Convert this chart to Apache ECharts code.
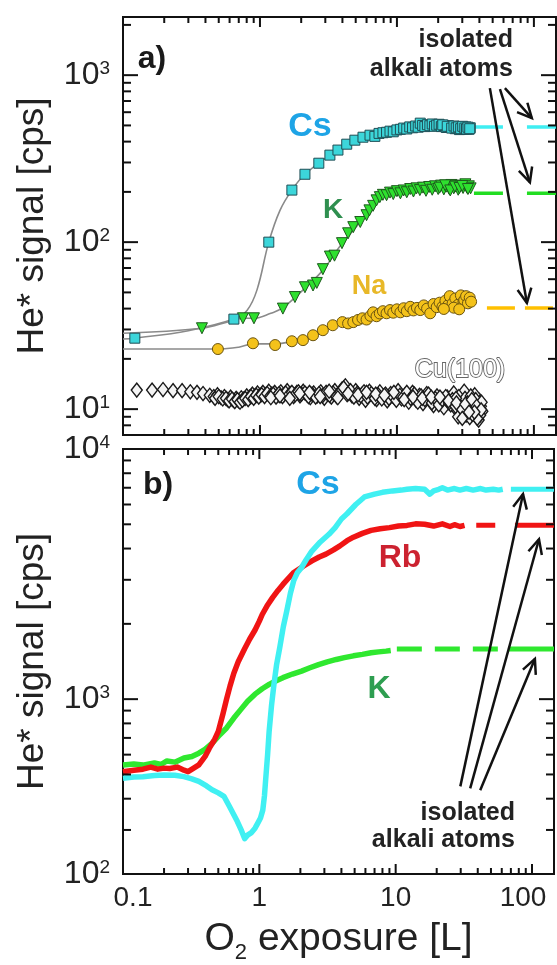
<!DOCTYPE html>
<html>
<head>
<meta charset="utf-8">
<script src="https://cdn.jsdelivr.net/npm/echarts@6/dist/echarts.min.js"></script>
<style>
  html, body { margin: 0; padding: 0; background: #fff; }
  #chart { width: 557px; height: 965px; }
</style>
</head>
<body>
<div id="chart"></div>
<script>
const FONT = '"Liberation Sans", Arial, Helvetica, sans-serif';

// shared x axis (O2 exposure, L)
const X_MIN = 0.1, X_MAX = 145;
const xTickVals = [0.1, 1, 10, 100];
const xTickText = ['0.1', '1', '10', '100'];
const xMinor = [0.2, 0.3, 0.4, 0.5, 0.6, 0.7, 0.8, 0.9, 2, 3, 4, 5, 6, 7, 8, 9,
  20, 30, 40, 50, 60, 70, 80, 90];

// panel a) y axis
const yMinA = 7, yMaxA = 2230;
const yLabelA = [10, 100, 1000];
const yExpA = ['1', '2', '3'];
const yMinorA = [8, 9, 20, 30, 40, 50, 60, 70, 80, 90, 200, 300, 400, 500, 600, 700, 800, 900, 2000];

// panel b) y axis (bottom of frame is labelled 10^2 in the original)
const yMinB = 200, yMaxB = 10000;
const yLabelB = [200, 1000, 10000];
const yExpB = ['2', '3', '4'];
const yMinorB = [300, 400, 500, 600, 700, 800, 900, 2000, 3000, 4000, 5000, 6000, 7000, 8000, 9000];

// ---- panel a) data [exposure, signal]
const csA = [[0.122,26.6],[0.645,34.6],[1.16,100],[1.71,205],[2.13,255],[2.69,297],[3.24,332],[3.71,356],
  [4.3,386],[4.93,408],[5.65,425],[6.36,437],[6.9,430],[7.4,448],[7.9,452],[8.4,455],[8.9,462],[9.4,458],
  [10,470],[10.6,474],[11.2,482],[11.8,476],[12.4,490],[13,484],[13.7,496],[14.3,488],[14.8,516],[15.4,500],
  [16,492],[16.7,505],[17.4,498],[18.1,510],[18.8,494],[19.5,502],[20.3,508],[21.1,492],[22,500],[22.9,486],
  [23.8,498],[24.7,490],[25.6,489],[26.6,478],[27.6,492],[28.6,472],[29.7,486],[30.8,476],[31.9,490],
  [32.6,482],[33.5,474],[34.3,484],[21.6,504],[23.3,494],[25.1,482],[26.1,496],[27.1,484],[28.1,490],
  [29.2,478],[30.2,494],[31.3,482],[32.2,476],[33,488],[34,478]];
const kA = [[0.377,30.5],[0.751,35],[0.904,35],[1.47,40],[1.8,46.9],[2.13,53.7],[2.44,55],[2.6,57],[2.88,68.9],
  [3.24,82],[3.5,83],[3.97,98.6],[4.4,113],[4.8,123],[5.4,132],[6.0,145],[6.3,155],[6.7,165],[7.1,178],
  [7.5,186],[7.9,192],[8.4,191],[8.9,198],[9.4,194],[10,202],[10.6,196],[11.2,204],[11.8,199],[12.5,208],
  [13.2,201],[13.9,210],[14.7,205],[15.5,212],[16.3,203],[17.2,214],[18.1,206],[19,216],[20,208],[21,218],
  [22,207],[23,215],[24,209],[25,220],[26,210],[27,216],[28,206],[29.2,218],[30.4,211],[31.6,222],
  [32.4,212],[33.5,216],[34.5,210],[20.5,212],[22.5,219],[24.5,204],[26.5,215],[28.6,211],[30,217],[33,208]];
const naA = [[0.493,22.9],[0.889,24.8],[1.29,24.2],[1.71,25.5],[2.06,25.9],[2.44,27.7],[2.88,29.7],[3.4,31.8],
  [4.0,33.2],[4.4,32.6],[4.8,33.2],[5.2,34.2],[5.6,35],[6.0,34.4],[6.4,36.2],[6.7,38],[7.1,36],[7.5,37.4],
  [7.9,38.6],[8.4,37.5],[8.9,39.2],[9.4,37.8],[10,39.6],[10.6,38],[11.2,40.2],[11.8,38.6],[12.5,41],[13.2,39],
  [14,40.4],[14.8,39.2],[15.7,41.8],[16.6,40],[17.5,37.5],[18.5,42.6],[19.5,40.8],[20.5,43.4],[21.5,41],
  [22.6,44.6],[23.7,42],[24.3,47.5],[25.5,43],[26.7,46],[28,42.2],[29.3,48],[30.6,44],[31,45],[32,47.5],
  [33,43],[34,46.5],[34.8,44],[26,40.5],[28.5,39.6],[22,39.8]];
const cuA = [[0.126,13.0],[0.163,13.0],[0.196,13.1],[0.232,12.9],[0.27,12.9],[0.31,12.7],[0.347,12.6],[0.384,12.4],
  [0.43,12.1],[0.46,11.9],[0.49,12.2],[0.52,11.7],[0.55,11.9],[0.58,11.4],[0.61,11.8],[0.64,11.3],[0.67,11.6],
  [0.7,11.2],[0.73,11.7],[0.76,11.5],[0.8,12.0],[0.84,11.8],[0.88,12.3],[0.92,12.0],[0.96,12.5],[1.0,12.1],
  [1.05,12.6],[1.1,12.2],[1.16,12.8],[1.22,12.3],[1.28,12.6],[1.35,12.1],[1.42,12.7],[1.5,12.2],[1.58,12.9],
  [1.67,12.4],[1.76,11.9],[1.86,12.6],[1.96,12.0],[2.07,12.8],[2.2,12.2],[2.33,11.7],[2.47,12.5],[2.62,12.0],
  [2.78,12.7],[2.95,11.6],[3.13,12.3],[3.32,11.8],[3.52,12.9],[3.74,12.2],[3.97,13.2],[4.2,13.8],[4.45,12.6],
  [4.7,12.0],[5.0,12.9],[5.3,11.6],[5.6,12.4],[5.9,11.3],[6.3,12.8],[6.7,12.0],[7.1,11.4],[7.5,12.7],[8.0,11.9],
  [8.5,11.2],[9.0,12.4],[9.6,11.7],[10.2,12.9],[10.8,11.5],[11.5,12.2],[12.2,11.0],[13,12.6],[13.8,11.3],
  [14.6,12.1],[15.5,10.8],[16.5,12.4],[17.5,11.2],[18.5,10.5],[19.6,12.0],[20.8,11.0],[22,10.2],[23.3,11.8],
  [24.7,10.6],[26,12.5],[27.5,9.8],[29,11.4],[30.5,10.3],[32,9.2],[33.5,11.0],[35,9.9],[36.5,10.8],[38,9.5],
  [39.5,8.6],[41,10.4],[42,9.7],[40,11.3],[37,12.2],[34,8.9],[31,12.8],[28,9.0],
  [0.47,11.6],[0.5,11.9],[0.535,11.5],[0.565,11.6],[0.595,11.2],[0.625,11.5],[0.655,11.1],[0.685,11.4],
  [0.715,11.0],[0.745,11.3],[0.78,11.6],[0.82,11.4],[0.86,11.9],[0.9,11.6],[0.94,12.1],[0.98,11.8],[1.03,12.2],
  [1.08,11.9],[1.13,12.4],[1.19,12.0],[1.25,12.3],[1.31,11.8],[1.38,12.4],[1.46,11.9],[1.54,12.5],[1.62,12.1],
  [1.71,12.6],[1.81,12.2],[1.91,12.7],[2.01,12.3],[2.13,12.5],[2.26,11.9],[2.4,12.3],[2.55,11.8],[2.7,12.4],
  [2.86,12.0],[3.04,12.6],[3.22,12.1],[3.42,12.5],[3.63,11.9],[3.85,12.6],[4.08,13.4],[4.33,12.2],[4.58,12.9],
  [4.85,11.8],[5.15,12.5],[5.45,12.0],[5.75,12.7],[6.1,11.8],[6.5,12.4],[6.9,11.6],[7.3,12.2],[7.75,11.5],
  [8.25,12.3],[8.75,11.6],[9.3,12.0],[9.9,11.3],[10.5,12.1],[11.1,11.8],[11.8,12.6],[12.6,11.6],[13.4,12.3],
  [14.2,11.0],[15,12.0],[16,11.4],[17,12.3],[18,10.9],[19,11.6],[20.2,10.6],[21.4,11.4],[22.7,11.9],[24,10.9],
  [25.4,11.4],[26.8,10.4],[28.3,11.9],[29.8,10.0],[31.4,11.6],[33,10.4],[34.6,12.0],[36,10.1],[37.6,11.4],
  [39,10.0],[40.5,9.2],[41.5,11.0],[38.6,8.8],[35.6,9.3],[32.8,10.9],[30,8.8],[27,11.6],
  [1.2,11.7],[1.4,12.0],[1.65,11.6],[1.95,12.4],[2.3,12.6],[2.75,11.9],[3.2,12.8],[3.7,11.7],[4.4,12.4],
  [5.2,12.2],[6.0,12.6],[7.0,12.3],[8.1,12.1],[9.5,12.6],[11.3,11.4],[13.1,11.8],[15.3,11.6],[17.8,11.8],
  [20.6,11.8],[23.8,11.2],[27.2,10.9],[31.6,10.7],[35.2,11.4],[38.2,10.4],[41.2,9.9],[36.8,9.6],[33.6,9.6]];

// grey guide-to-the-eye curves in panel a)
const fitCsA = [[0.1,26.3],[0.122,26.6],[0.3,29.5],[0.645,34.6],[0.804,39],[0.95,51.6],[1.16,100],[1.4,155],
  [1.71,205],[2.13,255],[3.24,332],[4.93,408],[8,458],[15,495]];
const fitKA = [[0.1,28.5],[0.377,30.5],[0.6,33.5],[0.751,35],[0.904,35],[1.2,37.5],[1.47,40.5],[2.13,53],
  [2.88,68],[3.97,98],[5.4,132],[7.1,178],[10,200]];
const fitNaA = [[0.1,22.9],[0.3,22.9],[0.493,22.9],[0.7,23.5],[0.889,24.6],[1.29,24.6],[1.71,25.4],[2.06,26],
  [2.44,27.6],[2.88,29.6],[3.4,31.6],[4.0,33],[5,34.2],[6.7,37]];

// isolated-atom levels: [start, level], dashed to the right frame
const csLevelA = [36.5, 489];
const kLevelA = [36.5, 196];
const naLevelA = [45.4, 40.3];

// ---- panel b) data [exposure, signal]
const csB = [[0.1,483],[0.12,488],[0.14,490],[0.17,495],[0.2,498],[0.24,496],[0.28,490],[0.32,480],[0.36,469],
  [0.41,450],[0.45,434],[0.5,422],[0.55,409],[0.6,375],[0.65,345],[0.69,324],[0.74,298],[0.78,277],[0.82,286],
  [0.87,292],[0.93,305],[0.97,318],[1.02,335],[1.06,360],[1.09,410],[1.11,468],[1.15,600],[1.18,743],
  [1.23,950],[1.28,1145],[1.34,1380],[1.41,1603],[1.5,1950],[1.59,2254],[1.69,2650],[1.79,2985],[1.9,3200],
  [2.04,3360],[2.2,3600],[2.43,3910],[2.8,4250],[3.24,4560],[3.6,4850],[4.0,5250],[4.4,5510],[5.1,6000],
  [5.9,6430],[7,6600],[8,6710],[9.5,6800],[11,6850],[12.1,6900],[14,6950],[16.3,6900],[17.8,6600],[19,6800],
  [20.7,6900],[22,7000],[24,6850],[27,6950],[29.6,6850],[33,6950],[37,6850],[42,6950],[46,6850],[52,6900],
  [57,6850],[61,6900]];
const rbB = [[0.1,513],[0.12,520],[0.14,525],[0.16,535],[0.18,525],[0.2,530],[0.22,528],[0.25,535],[0.28,520],
  [0.3,513],[0.33,530],[0.36,546],[0.4,590],[0.43,637],[0.47,690],[0.5,743],[0.54,870],[0.575,1000],[0.61,1130],
  [0.65,1270],[0.7,1410],[0.78,1590],[0.85,1740],[0.93,1890],[1.0,2050],[1.05,2180],[1.15,2380],[1.25,2546],
  [1.37,2720],[1.49,2875],[1.64,3050],[1.79,3210],[2.1,3400],[2.43,3570],[2.75,3700],[3.08,3800],[3.5,3950],
  [3.9,4100],[4.4,4300],[4.9,4440],[5.7,4600],[6.6,4730],[7.7,4800],[9.0,4850],[10.5,4920],[12.1,4950],
  [14,5020],[16.3,5000],[19,4920],[22,5020],[25,4900],[27,4980],[29.6,4900],[32,4950]];
const kB = [[0.1,546],[0.12,550],[0.14,545],[0.17,556],[0.19,548],[0.21,566],[0.24,560],[0.28,582],[0.32,590],
  [0.36,608],[0.4,630],[0.45,666],[0.5,710],[0.575,767],[0.65,840],[0.73,908],[0.82,980],[0.93,1047],
  [1.05,1100],[1.18,1145],[1.33,1185],[1.49,1219],[1.75,1260],[2.04,1295],[2.35,1335],[2.72,1375],
  [3.15,1410],[3.67,1441],[4.2,1465],[4.9,1490],[5.7,1510],[6.6,1533],[7.5,1545],[8.5,1556],[9.2,1565]];

// isolated-atom levels in b): [dash start, solid start, level]
const csLevelB = [70, 70, 6900];
const rbLevelB = [39, 75, 4960];
const kLevelB = [10.2, 67, 1585];

// annotation arrows [x1, y1, x2, y2] in data units
const arrowsA = [[47.7,836,88.9,43.2],[56.5,824,93.5,228],[61.4,836,96.6,553]];
const arrowsB = [[29.8,448,85.9,6605],[35.2,440,112.5,4357],[41.7,432,105,1448]];

function pick(v, vals) {
  return vals.findIndex(t => Math.abs(v / t - 1) < 0.02);
}

function tickData(xRef, yRef, yMajor, yMinor) {
  const d = [];
  xTickVals.forEach(v => d.push([v, yRef, 10, 1]));
  xMinor.forEach(v => d.push([v, yRef, 6, 1]));
  yMajor.forEach(v => d.push([xRef, v, 15, 0]));
  yMinor.forEach(v => d.push([xRef, v, 8, 0]));
  return d;
}

function renderTick(params, api) {
  const cs = params.coordSys;
  const p = api.coord([api.value(0), api.value(1)]);
  const len = api.value(2);
  const style = { stroke: '#111', lineWidth: 2 };
  if (api.value(3) === 1) {
    const yb = cs.y + cs.height;
    return { type: 'group', children: [
      { type: 'line', shape: { x1: p[0], y1: yb, x2: p[0], y2: yb - len }, style },
      { type: 'line', shape: { x1: p[0], y1: cs.y, x2: p[0], y2: cs.y + len }, style }
    ] };
  }
  const xr = cs.x + cs.width;
  return { type: 'group', children: [
    { type: 'line', shape: { x1: cs.x, y1: p[1], x2: cs.x + len, y2: p[1] }, style },
    { type: 'line', shape: { x1: xr, y1: p[1], x2: xr - len, y2: p[1] }, style }
  ] };
}

function renderArrow(params, api) {
  const a = api.coord([api.value(0), api.value(1)]);
  const b = api.coord([api.value(2), api.value(3)]);
  const dx = b[0] - a[0], dy = b[1] - a[1];
  const L = Math.hypot(dx, dy);
  const ux = dx / L, uy = dy / L;
  const hl = 16, ang = 0.45;
  const c = Math.cos(ang), s = Math.sin(ang);
  const h1 = [b[0] - hl * (ux * c - uy * s), b[1] - hl * (uy * c + ux * s)];
  const h2 = [b[0] - hl * (ux * c + uy * s), b[1] - hl * (uy * c - ux * s)];
  const style = { stroke: '#111', lineWidth: 2.5, fill: null };
  return { type: 'group', children: [
    { type: 'line', shape: { x1: a[0], y1: a[1], x2: b[0], y2: b[1] }, style },
    { type: 'polyline', shape: { points: [h1, b, h2] }, style }
  ] };
}

const yRich = {
  b: { fontSize: 32, lineHeight: 32, color: '#222', fontFamily: FONT },
  s: { fontSize: 19, lineHeight: 19, color: '#222', fontFamily: FONT, verticalAlign: 'top' }
};

function yAxisFor(g, min, max, vals, exps) {
  return {
    type: 'log', gridIndex: g, min: min, max: max,
    axisLine: { show: false }, axisTick: { show: false }, splitLine: { show: false },
    axisLabel: {
      margin: 13, showMinLabel: true, showMaxLabel: true, rich: yRich,
      fontSize: 32, fontFamily: FONT, color: '#222',
      formatter: v => { const i = pick(v, vals); return i < 0 ? '' : '{b|10}{s|' + exps[i] + '}'; }
    },
    name: 'He* signal [cps]', nameLocation: 'middle', nameRotate: 90, nameGap: 72,
    nameTextStyle: { fontSize: 37, color: '#222', fontFamily: FONT }
  };
}

const xRich = {
  n: { fontSize: 28, color: '#222', fontFamily: FONT },
  l: { fontSize: 28, color: '#222', fontFamily: FONT, padding: [0, 0, 0, 20] },
  r: { fontSize: 28, color: '#222', fontFamily: FONT, padding: [0, 18, 0, 0] }
};

function xAxisFor(g) {
  return {
    type: 'log', gridIndex: g, min: X_MIN, max: X_MAX,
    axisLine: { show: false }, axisTick: { show: false }, splitLine: { show: false },
    axisLabel: {
      show: g === 1, margin: 10, fontSize: 28, color: '#222', fontFamily: FONT,
      showMinLabel: true, showMaxLabel: true, rich: xRich,
      formatter: v => {
        const i = pick(v, xTickVals);
        if (i < 0) return '';
        const st = i === 0 ? 'l' : (i === xTickVals.length - 1 ? 'r' : 'n');
        return '{' + st + '|' + xTickText[i] + '}';
      }
    },
    name: g === 1 ? 'O{sub|2} exposure [L]' : '', nameLocation: 'middle', nameGap: 40,
    nameTextStyle: {
      fontSize: 39, color: '#222', fontFamily: FONT,
      rich: { sub: { fontSize: 22, color: '#222', fontFamily: FONT, verticalAlign: 'bottom', lineHeight: 50 } }
    }
  };
}

function scatter(data, symbol, size, fill, border, rotate, bw) {
  return {
    type: 'scatter', xAxisIndex: 0, yAxisIndex: 0, data: data, symbol: symbol, symbolSize: size,
    symbolRotate: rotate || 0, z: 3,
    itemStyle: { color: fill, borderColor: border, borderWidth: bw || 1, opacity: 1 }
  };
}

function fitLine(data) {
  return {
    type: 'line', xAxisIndex: 0, yAxisIndex: 0, data: data, smooth: 0.4, showSymbol: false, z: 2,
    lineStyle: { color: '#8a8a8a', width: 1.6 }
  };
}

function levelA(lv, color, dash) {
  return {
    type: 'line', xAxisIndex: 0, yAxisIndex: 0, showSymbol: false, z: 2,
    data: [[lv[0], lv[1]], [X_MAX, lv[1]]],
    lineStyle: { color: color, width: 3.5, type: dash }
  };
}

function traceB(data, color) {
  return {
    type: 'line', xAxisIndex: 1, yAxisIndex: 1, data: data, showSymbol: false, z: 3,
    lineStyle: { color: color, width: 5.5, join: 'round' }
  };
}

function levelB(lv, color, dash) {
  return [
    { type: 'line', xAxisIndex: 1, yAxisIndex: 1, showSymbol: false, z: 3,
      data: [[lv[0], lv[2]], [lv[1], lv[2]]], lineStyle: { color: color, width: 5, type: dash } },
    { type: 'line', xAxisIndex: 1, yAxisIndex: 1, showSymbol: false, z: 3,
      data: [[lv[1], lv[2]], [X_MAX, lv[2]]], lineStyle: { color: color, width: 5 } }
  ];
}

function txt(text, x, y, size, color, weight, align, extra) {
  return {
    type: 'text', x: x, y: y, z: 100,
    style: Object.assign({
      text: text, fill: color, font: (weight || 'normal') + ' ' + size + 'px ' + FONT,
      align: align || 'center', verticalAlign: 'middle'
    }, extra || {})
  };
}

const chart = echarts.init(document.getElementById('chart'), null, { renderer: 'canvas' });

const option = {
  backgroundColor: '#fff',
  animation: false,
  grid: [
    { left: 123, top: 17, width: 433, height: 418, show: true, borderColor: '#111', borderWidth: 2, containLabel: false },
    { left: 123, top: 449, width: 433, height: 433, show: true, borderColor: '#111', borderWidth: 2, containLabel: false }
  ],
  xAxis: [xAxisFor(0), xAxisFor(1)],
  yAxis: [yAxisFor(0, yMinA, yMaxA, yLabelA, yExpA), yAxisFor(1, yMinB, yMaxB, yLabelB, yExpB)],
  series: [
    fitLine(fitCsA), fitLine(fitKA), fitLine(fitNaA),
    scatter(cuA, 'diamond', [11, 14], '#f4f4f4', '#1a1a1a', 0, 1.4),
    scatter(naA, 'circle', 11, '#f4c21a', '#6b5410'),
    scatter(kA, 'triangle', 11, '#2ee02e', '#1d5a1d', 180),
    scatter(csA, 'rect', 10, '#3cd6da', '#1f4e55'),
    levelA(csLevelA, '#3feef2', [29, 24]),
    levelA(kLevelA, '#22dd22', [29, 24]),
    levelA(naLevelA, '#ffc000', [28, 10]),
    traceB(kB, '#2fe82f'),
    traceB(rbB, '#f01414'),
    traceB(csB, '#40f0f2'),
    ...levelB(csLevelB, '#40f0f2', 'solid'),
    ...levelB(rbLevelB, '#f01414', [19, 20]),
    ...levelB(kLevelB, '#2fe82f', [25, 13]),
    { type: 'custom', xAxisIndex: 0, yAxisIndex: 0, renderItem: renderArrow, data: arrowsA, z: 5,
      encode: { x: [0, 2], y: [1, 3] }, silent: true },
    { type: 'custom', xAxisIndex: 1, yAxisIndex: 1, renderItem: renderArrow, data: arrowsB, z: 5,
      encode: { x: [0, 2], y: [1, 3] }, silent: true },
    { type: 'custom', xAxisIndex: 0, yAxisIndex: 0, renderItem: renderTick, z: 6, silent: true,
      data: tickData(X_MIN, yMinA, yLabelA, yMinorA), encode: { x: 0, y: 1 } },
    { type: 'custom', xAxisIndex: 1, yAxisIndex: 1, renderItem: renderTick, z: 6, silent: true,
      data: tickData(X_MIN, yMinB, [1000], yMinorB), encode: { x: 0, y: 1 } }
  ],
  graphic: [
    txt('a)', 152, 59, 32, '#1a1a1a', 'bold'),
    txt('isolated', 513, 40, 25, '#222', 'bold', 'right'),
    txt('alkali atoms', 513, 69, 25, '#222', 'bold', 'right'),
    txt('Cs', 310, 127, 34, '#1ea4e6', 'bold'),
    txt('K', 333, 210, 28, '#2f8f4f', 'bold'),
    txt('Na', 369, 287, 27, '#e8b828', 'bold'),
    txt('Cu(100)', 460, 370, 25, '#ffffff', 'normal', 'center', { stroke: '#666', lineWidth: 1.8 }),
    txt('b)', 158, 485, 32, '#1a1a1a', 'bold'),
    txt('Cs', 318, 485, 34, '#1ea4e6', 'bold'),
    txt('Rb', 400, 558, 32, '#cc2230', 'bold'),
    txt('K', 379, 689, 32, '#2e9e50', 'bold'),
    txt('isolated', 515, 813, 25, '#222', 'bold', 'right'),
    txt('alkali atoms', 515, 840, 25, '#222', 'bold', 'right')
  ]
};

chart.setOption(option);
</script>
</body>
</html>
